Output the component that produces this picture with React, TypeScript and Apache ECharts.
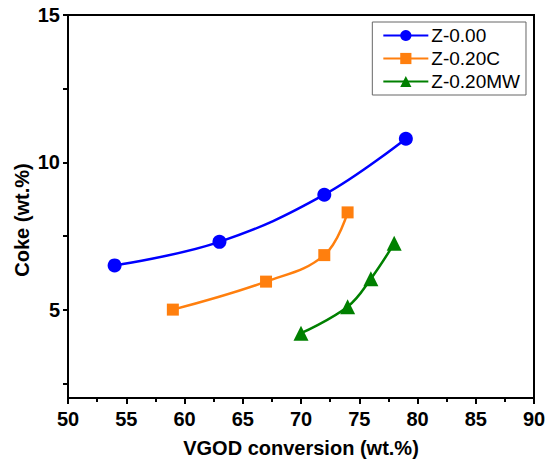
import React, { useEffect, useRef } from "react";
import * as echarts from "echarts";

const seriesNames = ["Z-0.00", "Z-0.20C", "Z-0.20MW"];
const conv000 = [54, 63, 72, 79];
const coke000 = [6.5, 7.3, 8.9, 10.8];
const conv020C = [59, 67, 72, 74];
const coke020C = [5.0, 5.95, 6.85, 8.3];
const conv020MW = [70, 74, 76, 78];
const coke020MW = [4.2, 5.1, 6.05, 7.25];
const yLabelValues = [5, 10, 15];
const yTickValues = [2.5, 5, 7.5, 10, 12.5, 15];
const xTitle = "VGOD conversion (wt.%)";
const yTitle = "Coke (wt.%)";

const pairs = (xs: number[], ys: number[]) => xs.map((x, i) => [x, ys[i]]);

export default function App() {
  const ref = useRef<HTMLDivElement>(null);
  useEffect(() => {
    if (!ref.current) return;
    const chart = echarts.init(ref.current, null, { renderer: "svg" });
    const font = "'Liberation Sans', Arial, sans-serif";
    const colors = ["#0000FF", "#FF7F0E", "#008000"];
    const symbols = ["circle", "rect", "triangle"];
    const sizes = [14, 12, 15];
    const datas = [
      pairs(conv000, coke000),
      pairs(conv020C, coke020C),
      pairs(conv020MW, coke020MW),
    ];
    chart.setOption({
      animation: false,
      backgroundColor: "#fff",
      grid: {
        left: 68,
        right: 16,
        top: 15,
        bottom: 73,
        show: true,
        borderColor: "#000",
        borderWidth: 2,
        backgroundColor: "transparent",
      },
      legend: {
        orient: "vertical",
        right: 24,
        top: 22,
        itemWidth: 45,
        itemHeight: 14,
        itemGap: 4,
        padding: [4, 6, 4, 10],
        borderColor: "#666",
        borderWidth: 1,
        textStyle: { fontFamily: font, fontSize: 19, color: "#000", padding: [0, 0, 0, -2] },
        data: seriesNames,
      },
      graphic: [
        {
          type: "text",
          x: 22,
          y: 220,
          rotation: Math.PI / 2,
          style: {
            text: yTitle,
            font: `bold 20px ${font}`,
            fill: "#000",
            align: "center",
            verticalAlign: "middle",
          },
        },
      ],
      xAxis: {
        type: "value",
        min: 50,
        max: 90,
        interval: 5,
        name: xTitle,
        nameLocation: "middle",
        nameGap: 40,
        nameTextStyle: { fontFamily: font, fontSize: 20, fontWeight: "bold", color: "#000" },
        axisLine: { show: true, lineStyle: { color: "#000", width: 2 } },
        axisTick: { show: true, inside: false, length: 6, lineStyle: { color: "#000", width: 2 } },
        minorTick: { show: true, splitNumber: 2, length: 4, lineStyle: { color: "#000", width: 2 } },
        axisLabel: { fontFamily: font, fontSize: 20, fontWeight: "bold", color: "#000", margin: 11 },
        splitLine: { show: false },
      },
      yAxis: {
        type: "value",
        min: 2,
        max: 15,
        axisLine: { show: true, lineStyle: { color: "#000", width: 2 } },
        axisTick: {
          show: true,
          length: 5,
          customValues: yTickValues,
          lineStyle: { color: "#000", width: 2 },
        },
        axisLabel: {
          fontFamily: font,
          fontSize: 20,
          fontWeight: "bold",
          color: "#000",
          margin: 8,
          customValues: yLabelValues,
        },
        splitLine: { show: false },
      },
      series: datas.map((d, i) => ({
        name: seriesNames[i],
        type: "line",
        data: d,
        smooth: 0.4,
        symbol: symbols[i],
        symbolSize: sizes[i],
        showAllSymbol: true,
        lineStyle: { color: colors[i], width: 2.5 },
        itemStyle: { color: colors[i] },
      })),
    });
    return () => chart.dispose();
  }, []);
  return (
    <div
      ref={ref}
      style={{ position: "fixed", left: 0, top: 0, width: 550, height: 471 }}
    />
  );
}
